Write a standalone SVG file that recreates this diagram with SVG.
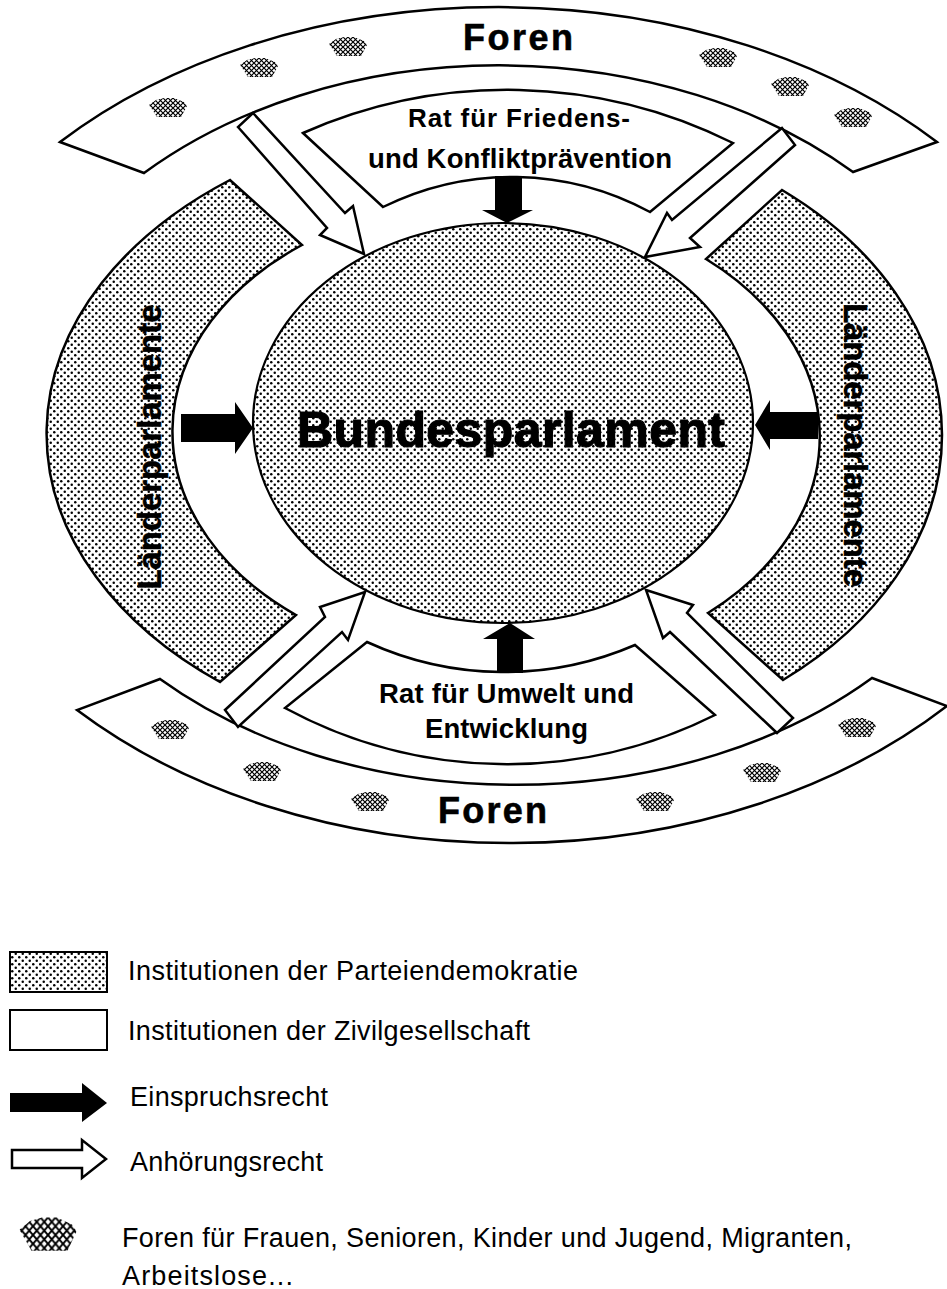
<svg xmlns="http://www.w3.org/2000/svg" width="947" height="1289" viewBox="0 0 947 1289">
<style>
.band{stroke:#000;stroke-width:2.5;stroke-linejoin:miter}
.dot{fill:url(#dots)}
.wh{fill:#fff}
.blk{fill:#000;stroke:none}
.warr{fill:#fff;stroke:#000;stroke-width:2.5;stroke-linejoin:miter}
.b{font-family:"Liberation Sans",Arial,sans-serif;font-weight:bold;fill:#000}
.r{font-family:"Liberation Sans",Arial,sans-serif;fill:#000}
</style>
<defs>
<pattern id="dots" width="7" height="7" patternUnits="userSpaceOnUse">
<rect width="7" height="7" fill="#fff"/>
<circle cx="1.75" cy="1.75" r="1.25" fill="#000"/>
<circle cx="5.25" cy="5.25" r="1.25" fill="#000"/>
</pattern>
<pattern id="hatch" width="5" height="5" patternUnits="userSpaceOnUse">
<rect width="5" height="5" fill="#fff"/>
<path d="M0 0L5 5M5 0L0 5" stroke="#000" stroke-width="1.2"/>
</pattern>
<path id="blob" d="M-19,-3 L-12,-8 L-4,-10 L6,-10 L16,-6 L19,-2 L13,9 L-11,9 Z" fill="url(#hatch)"/>
</defs>
<rect width="947" height="1289" fill="#fff"/>

<g id="foren-top">
<path class="band wh" d="M60 142 A600 425 0 0 1 937 142 L853 172 A502 367 0 0 0 144 173 Z"/>
<use href="#blob" x="168" y="108"/>
<use href="#blob" x="259" y="68"/>
<use href="#blob" x="348" y="47"/>
<use href="#blob" x="718" y="58"/>
<use href="#blob" x="790" y="87"/>
<use href="#blob" x="853" y="118"/>
<text class="b" x="463" y="50" font-size="36" stroke="#000" stroke-width="0.6" textLength="110">Foren</text>
</g>

<g id="foren-bottom">
<path class="band wh" d="M77 710 A600 434 0 0 0 947 706 L872 678 A500 357 0 0 1 160 679 Z"/>
<use href="#blob" x="170" y="730"/>
<use href="#blob" x="262" y="772"/>
<use href="#blob" x="370" y="802"/>
<use href="#blob" x="655" y="802"/>
<use href="#blob" x="762" y="773"/>
<use href="#blob" x="857" y="728"/>
<text class="b" x="438" y="823" font-size="36" stroke="#000" stroke-width="0.6" textLength="109">Foren</text>
</g>

<g id="laender-left">
<path class="band dot" d="M230 180 A462 318 0 0 0 220 682 L296 615 A319 232 0 0 1 302 245 Z"/>
<text class="b" transform="translate(161 447) rotate(-90)" x="0" y="0" font-size="33" stroke="#000" stroke-width="0.5" text-anchor="middle" textLength="285">Länderparlamente</text>
</g>

<g id="laender-right">
<path class="band dot" d="M782 190 A440 318 0 0 1 783 680 L708 613 A319 232 0 0 0 706 259 Z"/>
<text class="b" transform="translate(844 445) rotate(90)" x="0" y="0" font-size="33" stroke="#000" stroke-width="0.5" text-anchor="middle" textLength="284">Länderparlamente</text>
</g>

<g id="rat-top">
<path class="band wh" d="M303 133 A505 505 0 0 1 733 143 L650 212 A290 290 0 0 0 383 207 Z"/>
<text class="b" x="408" y="127" font-size="26" textLength="222">Rat für Friedens-</text>
<text class="b" x="368" y="168" font-size="27.5" textLength="304">und Konfliktprävention</text>
</g>

<g id="rat-bottom">
<path class="band wh" d="M367 642 A329 329 0 0 0 635 645 L715 715 A466 466 0 0 1 285 708 Z"/>
<text class="b" x="379" y="703" font-size="27.5" textLength="255">Rat für Umwelt und</text>
<text class="b" x="425" y="738" font-size="27.5" textLength="163">Entwicklung</text>
</g>

<g id="bundesparlament">
<ellipse cx="503" cy="423" rx="250" ry="200" fill="url(#dots)" stroke="#000" stroke-width="2.2"/>
<text class="b" x="297" y="447" font-size="50" stroke="#000" stroke-width="1.2" textLength="428">Bundesparlament</text>
</g>

<g id="connectors">
<polygon class="blk" points="181,414 235,414 235,402 253,428 235,454 235,442 181,442"/>
<polygon class="blk" points="818,412 770,412 770,400 755,425 770,450 770,439 818,439"/>
<polygon class="blk" points="495,176 522,176 522,210 533,210 507,223 482,210 495,210"/>
<polygon class="blk" points="497,673 523,673 523,639 535,639 510,623 483,639 497,639"/>
<polygon class="warr" points="238,127 327,228 320,235 364,254 353,206 345,213 253,113"/>
<polygon class="warr" points="782,128 672,220 667,213 645,257 700,247 690,238 795,145"/>
<polygon class="warr" points="225,710 325,617 320,607 365,592 348,640 342,632 238,727"/>
<polygon class="warr" points="777,733 670,632 663,638 646,590 693,605 687,613 793,718"/>
</g>

<g id="legend">
<rect x="10" y="952" width="97" height="40" fill="url(#dots)" stroke="#000" stroke-width="2"/>
<text class="r" x="128" y="980" font-size="27" textLength="450">Institutionen der Parteiendemokratie</text>
<rect x="10" y="1010" width="97" height="40" fill="#fff" stroke="#000" stroke-width="2"/>
<text class="r" x="128" y="1040" font-size="27" textLength="402">Institutionen der Zivilgesellschaft</text>
<polygon class="blk" points="10,1093 82,1093 82,1083 107,1103 82,1122 82,1112 10,1112"/>
<text class="r" x="130" y="1106" font-size="27" textLength="198">Einspruchsrecht</text>
<polygon class="warr" stroke-width="2" points="12,1150 82,1150 82,1140 106,1159 82,1178 82,1168 12,1168"/>
<text class="r" x="130" y="1171" font-size="27" textLength="193">Anhörungsrecht</text>
<use href="#blob" transform="translate(48 1235) scale(1.5 1.75)"/>
<text class="r" x="122" y="1247" font-size="27" textLength="730">Foren für Frauen, Senioren, Kinder und Jugend, Migranten,</text>
<text class="r" x="122" y="1285" font-size="27" textLength="171">Arbeitslose...</text>
</g>
</svg>
